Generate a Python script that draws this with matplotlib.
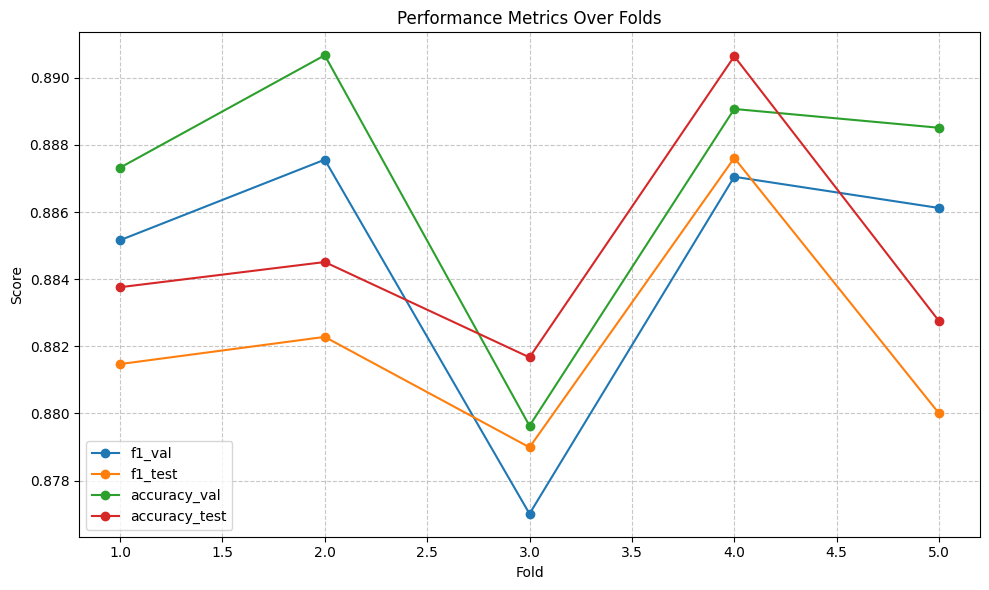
import matplotlib
matplotlib.use("Agg")
import matplotlib.pyplot as plt

# ===== DATA =====
folds = [1, 2, 3, 4, 5]
f1_val = [0.88516, 0.88756, 0.87701, 0.88705, 0.88612]
f1_test = [0.88147, 0.88228, 0.87899, 0.88761, 0.88000]
accuracy_val = [0.88732, 0.89067, 0.87963, 0.88907, 0.88851]
accuracy_test = [0.88376, 0.88451, 0.88167, 0.89064, 0.88275]

# ===== PLOT =====
plt.figure(figsize=(10, 6))

plt.plot(folds, f1_val, marker="o", label="f1_val")
plt.plot(folds, f1_test, marker="o", label="f1_test")
plt.plot(folds, accuracy_val, marker="o", label="accuracy_val")
plt.plot(folds, accuracy_test, marker="o", label="accuracy_test")

plt.xlabel("Fold")
plt.ylabel("Score")
plt.title("Performance Metrics Over Folds")

plt.legend(loc="lower left")
plt.grid(True, linestyle="--", alpha=0.7)

plt.tight_layout()
plt.savefig("out.png", dpi=100, bbox_inches="tight")
plt.close()
